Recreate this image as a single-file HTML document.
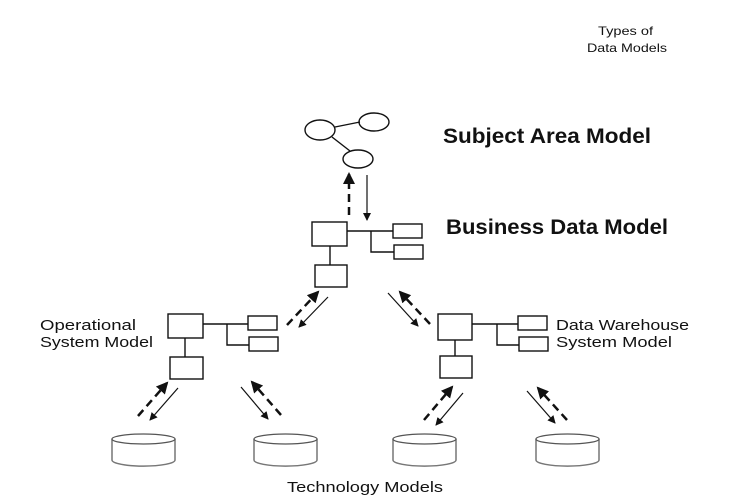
<!DOCTYPE html>
<html><head><meta charset="utf-8"><style>
html,body{margin:0;padding:0;background:#fff;}
svg{display:block;}
text{font-family:"Liberation Sans",sans-serif;fill:#111;}
</style></head><body>
<svg width="738" height="500" viewBox="0 0 738 500" xmlns="http://www.w3.org/2000/svg">
<defs>
<marker id="ah" markerWidth="8" markerHeight="8" refX="7" refY="4" orient="auto" markerUnits="userSpaceOnUse"><path d="M0,0 L8,4 L0,8 z" fill="#111"/></marker>
<marker id="ahb" markerWidth="12" markerHeight="12" refX="10" refY="6" orient="auto" markerUnits="userSpaceOnUse"><path d="M0,0 L12,6 L0,12 z" fill="#111"/></marker>
<g id="cyl">
<path d="M0,6 L0,27 A31,6 0 0 0 63,27 L63,6" fill="#fff" stroke="#777" stroke-width="1.5"/>
<ellipse cx="31.5" cy="6" rx="31.5" ry="5" fill="#fff" stroke="#555" stroke-width="1.3"/>
</g>
</defs>
<text x="598" y="35" font-size="12" textLength="55" lengthAdjust="spacingAndGlyphs">Types of</text>
<text x="587" y="52" font-size="12" textLength="80" lengthAdjust="spacingAndGlyphs">Data Models</text>
<text x="443" y="143" font-size="21" font-weight="bold" textLength="208" lengthAdjust="spacingAndGlyphs">Subject Area Model</text>
<text x="446" y="234" font-size="21" font-weight="bold" textLength="222" lengthAdjust="spacingAndGlyphs">Business Data Model</text>
<text x="40" y="330" font-size="15" textLength="96" lengthAdjust="spacingAndGlyphs">Operational</text>
<text x="40" y="347" font-size="15" textLength="113" lengthAdjust="spacingAndGlyphs">System Model</text>
<text x="556" y="330" font-size="15" textLength="133" lengthAdjust="spacingAndGlyphs">Data Warehouse</text>
<text x="556" y="347" font-size="15" textLength="116" lengthAdjust="spacingAndGlyphs">System Model</text>
<text x="287" y="492" font-size="15" textLength="156" lengthAdjust="spacingAndGlyphs">Technology Models</text>

<g fill="#fff" stroke="#111" stroke-width="1.4">
<ellipse cx="320" cy="130" rx="15" ry="10"/>
<ellipse cx="374" cy="122" rx="15" ry="9"/>
<ellipse cx="358" cy="159" rx="15" ry="9"/>
</g>
<g stroke="#111" stroke-width="1.4" fill="none">
<line x1="335" y1="127" x2="360" y2="122"/>
<line x1="332" y1="137" x2="350" y2="151"/>
<rect x="312" y="222" width="35" height="24"/>
<line x1="347" y1="231" x2="393" y2="231"/>
<polyline points="371,231 371,252 394,252"/>
<rect x="393" y="224" width="29" height="14"/>
<rect x="394" y="245" width="29" height="14"/>
<line x1="330" y1="246" x2="330" y2="265"/>
<rect x="315" y="265" width="32" height="22"/>
<rect x="168" y="314" width="35" height="24"/>
<line x1="203" y1="324" x2="248" y2="324"/>
<polyline points="227,324 227,345 249,345"/>
<rect x="248" y="316" width="29" height="14"/>
<rect x="249" y="337" width="29" height="14"/>
<line x1="185" y1="338" x2="185" y2="357"/>
<rect x="170" y="357" width="33" height="22"/>
<rect x="438" y="314" width="34" height="26"/>
<line x1="472" y1="324" x2="518" y2="324"/>
<polyline points="497,324 497,345 519,345"/>
<rect x="518" y="316" width="29" height="14"/>
<rect x="519" y="337" width="29" height="14"/>
<line x1="455" y1="340" x2="455" y2="356"/>
<rect x="440" y="356" width="32" height="22"/>
</g>
<g stroke="#111" fill="none">
<line x1="349" y1="215" x2="349" y2="174" stroke-width="2.5" stroke-dasharray="8,5" marker-end="url(#ahb)"/>
<line x1="367" y1="175" x2="367" y2="220" stroke-width="1.2" marker-end="url(#ah)"/>
<line x1="287" y1="325" x2="318" y2="292" stroke-width="2.5" stroke-dasharray="8,5" marker-end="url(#ahb)"/>
<line x1="328" y1="297" x2="299" y2="327" stroke-width="1.2" marker-end="url(#ah)"/>
<line x1="388" y1="293" x2="418" y2="326" stroke-width="1.2" marker-end="url(#ah)"/>
<line x1="430" y1="324" x2="400" y2="292" stroke-width="2.5" stroke-dasharray="8,5" marker-end="url(#ahb)"/>
<line x1="138" y1="416" x2="167" y2="383" stroke-width="2.5" stroke-dasharray="8,5" marker-end="url(#ahb)"/>
<line x1="178" y1="388" x2="150" y2="420" stroke-width="1.2" marker-end="url(#ah)"/>
<line x1="241" y1="387" x2="268" y2="419" stroke-width="1.2" marker-end="url(#ah)"/>
<line x1="281" y1="415" x2="252" y2="382" stroke-width="2.5" stroke-dasharray="8,5" marker-end="url(#ahb)"/>
<line x1="424" y1="420" x2="452" y2="387" stroke-width="2.5" stroke-dasharray="8,5" marker-end="url(#ahb)"/>
<line x1="463" y1="393" x2="436" y2="425" stroke-width="1.2" marker-end="url(#ah)"/>
<line x1="527" y1="391" x2="555" y2="423" stroke-width="1.2" marker-end="url(#ah)"/>
<line x1="567" y1="420" x2="538" y2="388" stroke-width="2.5" stroke-dasharray="8,5" marker-end="url(#ahb)"/>
</g>
<use href="#cyl" x="112" y="433"/>
<use href="#cyl" x="254" y="433"/>
<use href="#cyl" x="393" y="433"/>
<use href="#cyl" x="536" y="433"/>
</svg>
</body></html>
